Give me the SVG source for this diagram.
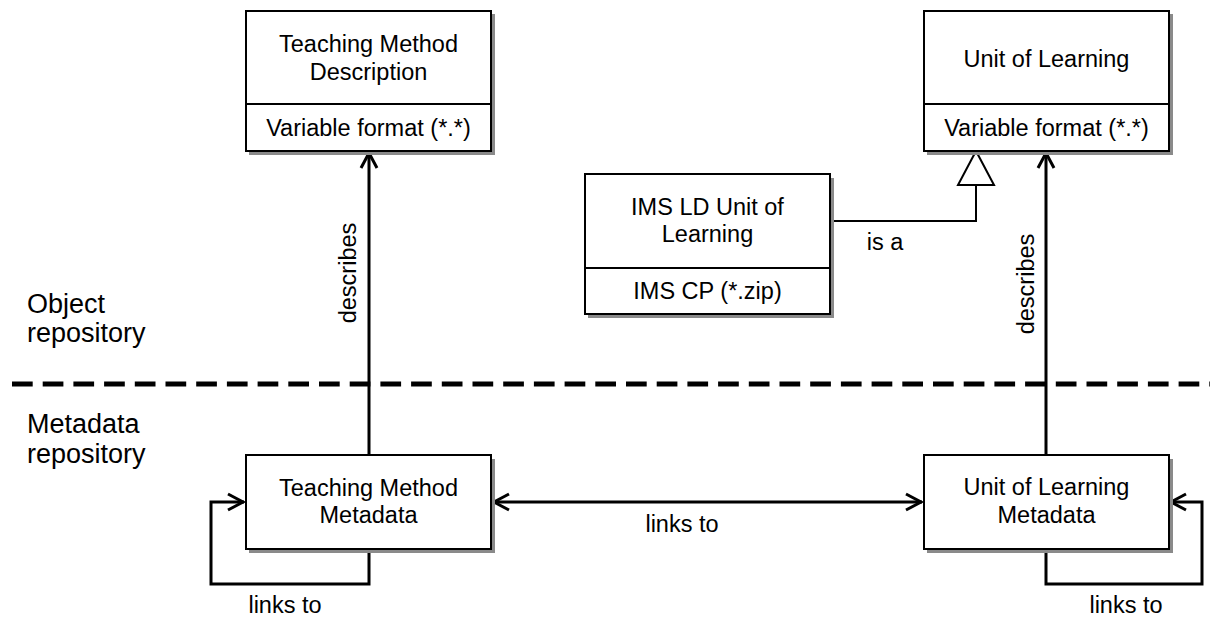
<svg xmlns="http://www.w3.org/2000/svg" width="1210" height="617" viewBox="0 0 1210 617">
<style>
text{font-family:"Liberation Sans",Arial,sans-serif;font-size:23.5px;fill:#000}
.c{text-anchor:middle}
.lane{font-size:27px}
.box{fill:#fff;stroke:#000;stroke-width:2}
.sh{fill:#8a8a8a}
.div{stroke:#000;stroke-width:2}
.conn{fill:none;stroke:#000;stroke-width:3}
.thin{fill:none;stroke:#000;stroke-width:2}
</style>
<defs>
<marker id="arr" markerUnits="userSpaceOnUse" viewBox="-20 -12 24 24" markerWidth="24" markerHeight="24" refX="0" refY="0" orient="auto-start-reverse">
<path d="M-16,-8 L-1,0 L-16,8" fill="none" stroke="#000" stroke-width="3"/>
</marker>
</defs>
<rect width="1210" height="617" fill="#fff"/>

<g id="lanes">
<line x1="12" y1="384" x2="1210" y2="384" stroke="#000" stroke-width="5" stroke-dasharray="20.7,10"/>
<text class="lane" x="27" y="313">Object</text>
<text class="lane" x="27" y="342">repository</text>
<text class="lane" x="27" y="433">Metadata</text>
<text class="lane" x="27" y="463">repository</text>
</g>

<g id="connectors">
<line class="conn" x1="369" y1="455" x2="369" y2="152" marker-end="url(#arr)"/>
<line class="conn" x1="1046" y1="455" x2="1046" y2="152" marker-end="url(#arr)"/>
<line class="conn" x1="493" y1="502" x2="922" y2="502" marker-start="url(#arr)" marker-end="url(#arr)"/>
<path class="conn" d="M369,549 V584 H211 V502 H244" marker-end="url(#arr)"/>
<path class="conn" d="M1046,549 V584 H1202 V502 H1170" marker-end="url(#arr)"/>
<path class="thin" d="M831,221 H976 V185"/>
<polygon points="976,151 958,185 994,185" fill="#fff" stroke="#000" stroke-width="2"/>
<text transform="translate(356,273) rotate(-90)" class="c">describes</text>
<text transform="translate(1034,284) rotate(-90)" class="c">describes</text>
<text x="682" y="532" class="c">links to</text>
<text x="285" y="613" class="c">links to</text>
<text x="1126" y="613" class="c">links to</text>
<text x="885" y="250" class="c">is a</text>
</g>

<g id="tmd">
<rect class="sh" x="249" y="14" width="246" height="141"/>
<rect class="box" x="246" y="11" width="245" height="140"/>
<line class="div" x1="246" y1="104" x2="491" y2="104"/>
<text x="368.5" y="52" class="c">Teaching Method</text>
<text x="368.5" y="80" class="c">Description</text>
<text x="368.5" y="136" class="c">Variable format (*.*)</text>
</g>

<g id="uol">
<rect class="sh" x="927" y="14" width="246" height="141"/>
<rect class="box" x="924" y="11" width="245" height="140"/>
<line class="div" x1="924" y1="104" x2="1169" y2="104"/>
<text x="1046.5" y="67" class="c">Unit of Learning</text>
<text x="1046.5" y="136" class="c">Variable format (*.*)</text>
</g>

<g id="imsld">
<rect class="sh" x="588" y="178" width="246" height="140"/>
<rect class="box" x="585" y="174" width="245" height="140"/>
<line class="div" x1="585" y1="268" x2="830" y2="268"/>
<text x="707.5" y="215" class="c">IMS LD Unit of</text>
<text x="707.5" y="242" class="c">Learning</text>
<text x="707.5" y="299" class="c">IMS CP (*.zip)</text>
</g>

<g id="tmm">
<rect class="sh" x="249" y="459" width="246" height="94"/>
<rect class="box" x="246" y="455" width="245" height="94"/>
<text x="368.5" y="496" class="c">Teaching Method</text>
<text x="368.5" y="523" class="c">Metadata</text>
</g>

<g id="uolm">
<rect class="sh" x="927" y="459" width="246" height="94"/>
<rect class="box" x="924" y="455" width="245" height="94"/>
<text x="1046.5" y="495" class="c">Unit of Learning</text>
<text x="1046.5" y="523" class="c">Metadata</text>
</g>
</svg>
